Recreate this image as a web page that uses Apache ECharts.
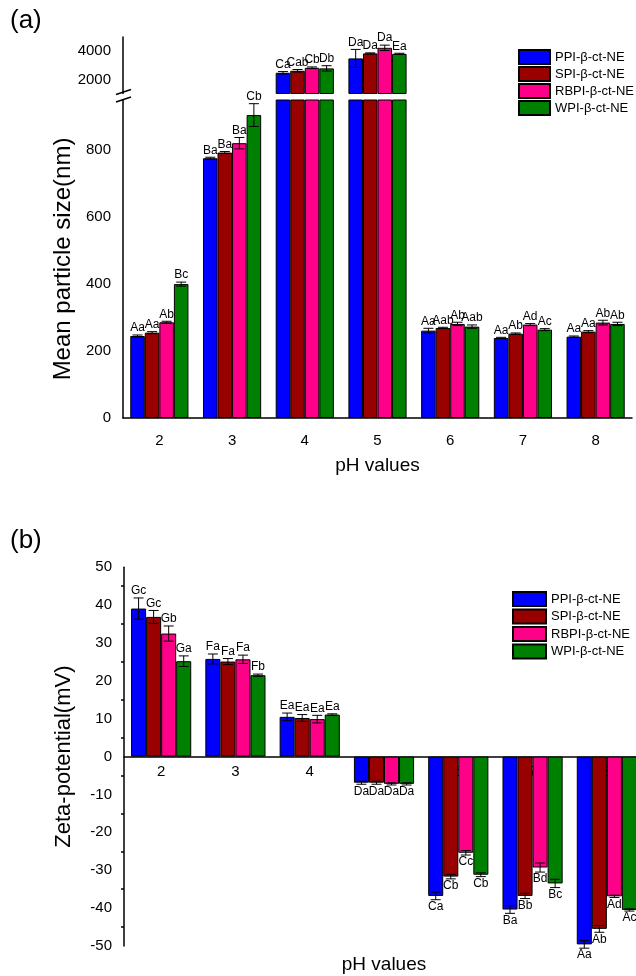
<!DOCTYPE html>
<html>
<head>
<meta charset="utf-8">
<script src="https://cdn.jsdelivr.net/npm/echarts@6/dist/echarts.min.js"></script>
<style>
  html, body { margin: 0; padding: 0; background: #fff; }
  #main { width: 636px; height: 976px; }
</style>
</head>
<body>
<div id="main"></div>
<script>
var phs = ['2', '3', '4', '5', '6', '7', '8'];
var names = ['PPI-β-ct-NE', 'SPI-β-ct-NE', 'RBPI-β-ct-NE', 'WPI-β-ct-NE'];
var colors = ['#0000ff', '#990000', '#ff0088', '#008000'];

// (a) mean particle size (nm)
var sizePPI = [245, 776, 2466, 3484, 261, 239, 243];
var sizeSPI = [255, 793, 2608, 3837, 269, 252, 258];
var sizeRBPI = [286, 821, 2820, 4233, 281, 279, 285];
var sizeWPI = [400, 905, 2777, 3809, 273, 264, 281];
var sizeErrPPI = [3, 3, 85, 636, 7, 2, 2];
var sizeErrSPI = [3, 3, 90, 40, 2, 2, 3];
var sizeErrRBPI = [3, 17, 60, 190, 5, 3, 7];
var sizeErrWPI = [6, 34, 190, 40, 5, 3, 5];
var sizeTagPPI = ['Aa', 'Ba', 'Ca', 'Da', 'Aa', 'Aa', 'Aa'];
var sizeTagSPI = ['Aa', 'Ba', 'Cab', 'Da', 'Aab', 'Ab', 'Aa'];
var sizeTagRBPI = ['Ab', 'Ba', 'Cb', 'Da', 'Ab', 'Ad', 'Ab'];
var sizeTagWPI = ['Bc', 'Cb', 'Db', 'Ea', 'Aab', 'Ac', 'Ab'];

// (b) zeta-potential (mV)
var zetaPPI = [39.1, 25.8, 10.5, -6.9, -36.8, -40.4, -49.6];
var zetaSPI = [36.9, 25.1, 10.2, -6.9, -31.7, -36.8, -45.5];
var zetaRBPI = [32.5, 25.7, 9.9, -7.2, -25.4, -29.3, -36.9];
var zetaWPI = [25.2, 21.5, 11.1, -7.2, -31.2, -33.5, -40.5];
var zetaErrPPI = [2.8, 1.3, 1.0, 0.4, 1.0, 1.0, 1.0];
var zetaErrSPI = [1.7, 0.8, 0.9, 0.4, 0.6, 0.7, 0.9];
var zetaErrRBPI = [2.0, 1.1, 1.0, 0.3, 0.6, 1.2, 0.3];
var zetaErrWPI = [1.4, 0.3, 0.2, 0.3, 0.5, 1.1, 0.3];
var zetaTagPPI = ['Gc', 'Fa', 'Ea', 'Da', 'Ca', 'Ba', 'Aa'];
var zetaTagSPI = ['Gc', 'Fa', 'Ea', 'Da', 'Cb', 'Bb', 'Ab'];
var zetaTagRBPI = ['Gb', 'Fa', 'Ea', 'Da', 'Cc', 'Bd', 'Ad'];
var zetaTagWPI = ['Ga', 'Fb', 'Ea', 'Da', 'Cb', 'Bc', 'Ac'];

var sizeVals = [sizePPI, sizeSPI, sizeRBPI, sizeWPI];
var sizeErrs = [sizeErrPPI, sizeErrSPI, sizeErrRBPI, sizeErrWPI];
var sizeTags = [sizeTagPPI, sizeTagSPI, sizeTagRBPI, sizeTagWPI];
var zetaVals = [zetaPPI, zetaSPI, zetaRBPI, zetaWPI];
var zetaErrs = [zetaErrPPI, zetaErrSPI, zetaErrRBPI, zetaErrWPI];
var zetaTags = [zetaTagPPI, zetaTagSPI, zetaTagRBPI, zetaTagWPI];

var FONT = "'Liberation Sans', Arial, sans-serif";
var LOW_MAX = 950, HIGH_MIN = 1000;
var ZETA_MIN = -50, ZETA_MAX = 50, ZETA_H = 378.6;
// x axis of panel (b) sits on the zero line
var zetaAxisOffset = -ZETA_H * (0 - ZETA_MIN) / (ZETA_MAX - ZETA_MIN);

// error bar + letter for bar k of a group
function errorBars(k, errs, tags, gapRatio, test) {
	return function (params, api) {
		var i = params.dataIndex;
		var v = api.value(1);
		if (!test(v)) return null;
		var e = errs[i];
		var w = api.size([1, 0])[0] * (1 - gapRatio) / 4;
		var x = api.coord([i, 0])[0] + (k - 1.5) * w;
		var hi = api.coord([i, v + e])[1];
		var lo = api.coord([i, v - e])[1];
		var ln = { stroke: '#000', lineWidth: 1 };
		return {
			type: 'group',
			children: [
				{ type: 'line', shape: { x1: x, y1: hi, x2: x, y2: lo }, style: ln },
				{ type: 'line', shape: { x1: x - 5, y1: hi, x2: x + 5, y2: hi }, style: ln },
				{ type: 'line', shape: { x1: x - 5, y1: lo, x2: x + 5, y2: lo }, style: ln },
				{
					type: 'text', x: x, y: v >= 0 ? hi - 1 : lo + 1,
					style: {
						text: tags[i], fill: '#000', font: '12px ' + FONT,
						align: 'center', verticalAlign: v >= 0 ? 'bottom' : 'top'
					}
				}
			]
		};
	};
}

var series = [];
for (let k = 0; k < 4; k++) {
	var style = { color: colors[k], borderColor: '#000', borderWidth: 1 };
	series.push({
		name: names[k], type: 'bar', xAxisIndex: 0, yAxisIndex: 0,
		barGap: '0%', barCategoryGap: '20%', itemStyle: style,
		data: sizeVals[k]
	});
	series.push({
		name: names[k], type: 'bar', xAxisIndex: 2, yAxisIndex: 2,
		barGap: '0%', barCategoryGap: '20%', itemStyle: style,
		data: sizeVals[k].map(function (v) { return v > HIGH_MIN ? v : '-'; })
	});
	series.push({
		name: names[k], type: 'bar', xAxisIndex: 3, yAxisIndex: 3,
		barGap: '0%', barCategoryGap: '19%', itemStyle: style,
		data: zetaVals[k]
	});
	series.push({
		type: 'custom', xAxisIndex: 0, yAxisIndex: 0, z: 3, clip: false, silent: true,
		renderItem: errorBars(k, sizeErrs[k], sizeTags[k], 0.2, function (v) { return v < LOW_MAX; }),
		data: sizeVals[k].map(function (v, i) { return [i, v]; })
	});
	series.push({
		type: 'custom', xAxisIndex: 2, yAxisIndex: 2, z: 3, clip: false, silent: true,
		renderItem: errorBars(k, sizeErrs[k], sizeTags[k], 0.2, function (v) { return v > HIGH_MIN; }),
		data: sizeVals[k].map(function (v, i) { return [i, v]; })
	});
	series.push({
		type: 'custom', xAxisIndex: 3, yAxisIndex: 3, z: 3, clip: false, silent: true,
		renderItem: errorBars(k, zetaErrs[k], zetaTags[k], 0.19, function () { return true; }),
		data: zetaVals[k].map(function (v, i) { return [i, v]; })
	});
}

var axisLine = { show: true, onZero: false, lineStyle: { color: '#000', width: 1.5 } };
var tickLabel = { color: '#000', fontSize: 15, fontFamily: FONT, formatter: function (v) { return String(v); } };

var option = {
	animation: false,
	textStyle: { fontFamily: FONT, color: '#000' },
	grid: [
		{ left: 123, width: 509, top: 100, height: 318, outerBoundsMode: 'none', containLabel: false },
		{ left: 123, width: 509, top: 37, height: 56.5, outerBoundsMode: 'none', containLabel: false },
		{ left: 124, width: 520, top: 567.3, height: ZETA_H, outerBoundsMode: 'none', containLabel: false }
	],
	xAxis: [
		{
			type: 'category', gridIndex: 0, position: 'bottom', data: phs,
			axisLine: axisLine,
			axisTick: { alignWithLabel: true, length: 7, lineStyle: { color: '#000', width: 1.5 } },
			axisLabel: Object.assign({}, tickLabel, { margin: 15 }),
			name: 'pH values', nameLocation: 'middle', nameGap: 38,
			nameTextStyle: { fontSize: 19, color: '#000' }
		},
		{
			type: 'category', gridIndex: 0, position: 'bottom', data: phs,
			axisLine: { show: false, onZero: false }, axisLabel: { show: false },
			axisTick: { length: 4, lineStyle: { color: '#000', width: 1.5 } }
		},
		{ type: 'category', gridIndex: 1, data: phs, show: false },
		{
			type: 'category', gridIndex: 2, position: 'bottom', offset: zetaAxisOffset, data: phs,
			axisLine: axisLine,
			axisTick: { alignWithLabel: true, length: 7, lineStyle: { color: '#000', width: 1.5 } },
			axisLabel: Object.assign({}, tickLabel, { margin: 8 }),
			name: 'pH values', nameLocation: 'middle', nameGap: 199,
			nameTextStyle: { fontSize: 19, color: '#000' }
		},
		{
			type: 'category', gridIndex: 2, position: 'bottom', offset: zetaAxisOffset, data: phs,
			axisLine: { show: false, onZero: false }, axisLabel: { show: false },
			axisTick: { length: 4, lineStyle: { color: '#000', width: 1.5 } }
		}
	],
	yAxis: [
		{
			type: 'value', gridIndex: 0, position: 'left', min: 0, max: LOW_MAX, interval: 100,
			splitLine: { show: false }, axisLine: axisLine,
			axisTick: { length: 6, customValues: [0, 200, 400, 600, 800], lineStyle: { color: '#000', width: 1.5 } },
			axisLabel: Object.assign({}, tickLabel, { margin: 12, customValues: [0, 200, 400, 600, 800] }),
			name: 'Mean particle size(nm)', nameLocation: 'middle', nameGap: 46,
			nameTextStyle: { fontSize: 24, color: '#000' }
		},
		{
			type: 'value', gridIndex: 0, position: 'left', min: 0, max: LOW_MAX, interval: 100,
			splitLine: { show: false }, axisLine: { show: false }, axisLabel: { show: false },
			axisTick: { length: 3, customValues: [100, 300, 500, 700, 900], lineStyle: { color: '#000', width: 1.5 } }
		},
		{
			type: 'value', gridIndex: 1, position: 'left', min: HIGH_MIN, max: 5000, interval: 1000,
			splitLine: { show: false }, axisLine: axisLine,
			axisTick: { length: 5, customValues: [2000, 3000, 4000, 5000], lineStyle: { color: '#000', width: 1.5 } },
			axisLabel: Object.assign({}, tickLabel, { margin: 12, customValues: [2000, 4000] })
		},
		{
			type: 'value', gridIndex: 2, position: 'left', min: ZETA_MIN, max: ZETA_MAX, interval: 10,
			splitLine: { show: false }, axisLine: axisLine,
			axisTick: { length: 6, lineStyle: { color: '#000', width: 1.5 } },
			minorTick: { show: true, splitNumber: 2, length: 3, lineStyle: { color: '#000', width: 1.5 } },
			axisLabel: Object.assign({}, tickLabel, { margin: 12 }),
			name: 'Zeta-potential(mV)', nameLocation: 'middle', nameGap: 49,
			nameTextStyle: { fontSize: 22, color: '#000' }
		}
	],
	legend: [
		{
			data: names, orient: 'vertical', left: 513, top: 44,
			itemWidth: 31, itemHeight: 14, itemGap: 1, icon: 'rect',
			textStyle: { fontSize: 13, color: '#000' }
		},
		{
			data: names, orient: 'vertical', left: 507, top: 586,
			itemWidth: 33, itemHeight: 14, itemGap: 1.5, icon: 'rect',
			textStyle: { fontSize: 13, color: '#000' }
		}
	],
	series: series
};

var chart = echarts.init(document.getElementById('main'), null, { renderer: 'canvas' });
chart.setOption(option);

// axis break marks and panel letters
var x0 = chart.convertToPixel({ xAxisIndex: 0 }, 0) - 0.5 * 509 / 7;
var yUp = chart.convertToPixel({ yAxisIndex: 2 }, HIGH_MIN);
var yLow = chart.convertToPixel({ yAxisIndex: 0 }, LOW_MAX);
chart.setOption({
	graphic: [
		{ type: 'line', shape: { x1: x0 - 7, y1: yUp + 1, x2: x0 + 8, y2: yUp - 4 }, style: { stroke: '#000', lineWidth: 1.5 } },
		{ type: 'line', shape: { x1: x0 - 7, y1: yLow + 2, x2: x0 + 8, y2: yLow - 3 }, style: { stroke: '#000', lineWidth: 1.5 } },
		{ type: 'text', left: 10, top: 8, style: { text: '(a)', font: '26px ' + FONT, fill: '#000' } },
		{ type: 'text', left: 10, top: 528, style: { text: '(b)', font: '26px ' + FONT, fill: '#000' } }
	]
});
</script>
</body>
</html>
